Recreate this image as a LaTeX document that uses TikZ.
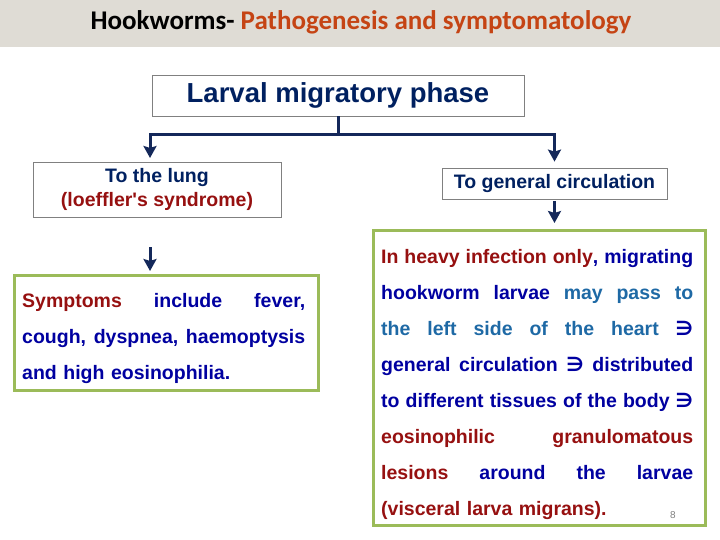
\documentclass[tikz,border=0pt]{standalone}
\usepackage{fontspec}
\setmainfont{Liberation Sans}
\newfontfamily\titlefont{Carlito}
\newfontfamily\symfont{DejaVu Sans}
\usepackage{tikz}
\usepackage{xcolor}
\usetikzlibrary{arrows.meta}
\definecolor{navycolor}{RGB}{0,32,96}
\definecolor{linkcolor}{RGB}{20,40,90}
\definecolor{redcolor}{RGB}{150,16,16}
\definecolor{bluecolor}{RGB}{0,0,160}
\definecolor{tealcolor}{RGB}{30,105,165}
\definecolor{greencolor}{RGB}{155,187,89}
\definecolor{titlecolor}{RGB}{197,68,20}
\definecolor{barcolor}{RGB}{223,220,213}
\newcommand{\jline}[2][312pt]{\makebox[#1][s]{\spaceskip=0pt\xspaceskip=0pt #2}}
\newcommand{\pointer}{{\symfont\bfseries ∋}}

\begin{document}
\begin{tikzpicture}[x=1pt, y=-1pt,
  greybox/.style={draw=gray, line width=0.8pt, inner sep=0pt, font=\bfseries},
  greenbox/.style={draw=greencolor, line width=3pt, inner sep=0pt},
  bodytext/.style={inner sep=0pt, align=left, text=bluecolor, font=\bfseries\fontsize{19.5}{36}\selectfont},
  flow/.style={line width=3pt, draw=linkcolor, -{Stealth[length=12pt, width=13pt, inset=2pt]}},
  link/.style={line width=3pt, draw=linkcolor}]
\useasboundingbox (0,0) rectangle (720,540);

% Title bar
\fill[barcolor] (0,0) rectangle (720,47);
\node[anchor=base, inner sep=0pt, font=\titlefont\bfseries\fontsize{27}{30}\selectfont] (title) at (361,30)
  {Hookworms- \textcolor{titlecolor}{Pathogenesis and symptomatology}};

% Boxes
\node[greybox, minimum width=372pt, minimum height=41pt, text=navycolor, font=\bfseries\fontsize{27.5}{32}\selectfont] (larval) at (338,95.5) {Larval migratory phase};
\node[greybox, minimum width=248pt, minimum height=55pt, align=center, text=navycolor, font=\bfseries\fontsize{19.5}{24}\selectfont] (lung) at (157,189.5)
  {To the lung\\\textcolor{redcolor}{(loeffler\textquotesingle s syndrome)}};
\node[greybox, minimum width=225pt, minimum height=31pt, text=navycolor, font=\bfseries\fontsize{19.5}{24}\selectfont] (circ) at (554.5,183.5) {To general circulation};
\node[greenbox, minimum width=304pt, minimum height=114.5pt] (symbox) at (166.5,332.75) {};
\node[greenbox, minimum width=331.5pt, minimum height=294.5pt] (heavybox) at (539.25,377.75) {};

% Texts in the green boxes
\node[bodytext, text width=283pt, anchor=base west] (symtext) at (22,307)
  {\jline[283pt]{\textcolor{redcolor}{Symptoms} include fever,}\\
   \jline[283pt]{cough, dyspnea, haemoptysis}\\
   and high eosinophilia.};
\node[bodytext, text width=312pt, anchor=base west] (heavytext) at (381,263)
  {\jline{\textcolor{redcolor}{In heavy infection only}, migrating}\\
   \jline{hookworm larvae \textcolor{tealcolor}{may pass to}}\\
   \jline{\textcolor{tealcolor}{the left side of the heart} \pointer}\\
   \jline{general circulation \pointer{} distributed}\\
   \jline{to different tissues of the body \pointer}\\
   \jline{\textcolor{redcolor}{eosinophilic granulomatous}}\\
   \jline{\textcolor{redcolor}{lesions} around the larvae}\\
   \textcolor{redcolor}{(visceral larva migrans).}};
\node[inner sep=0pt, text=gray, font=\fontsize{10}{12}\selectfont] (pagenum) at (673,515) {8};

% Connectors
\draw[link] (larval.south) -- ++(0,18.5) coordinate (split);
\coordinate (lungtip) at (150,158);
\draw[flow] (split) -| (lungtip);
\draw[flow] (split) -| ([yshift=6pt]circ.north);
\coordinate (symstart) at (150,247);
\coordinate (symtip) at (150,271);
\draw[flow] (symstart) -- (symtip);
\draw[flow, shorten <=2pt] (circ.south) -- ([yshift=6pt]heavybox.north -| circ.south);

\end{tikzpicture}
\end{document}
